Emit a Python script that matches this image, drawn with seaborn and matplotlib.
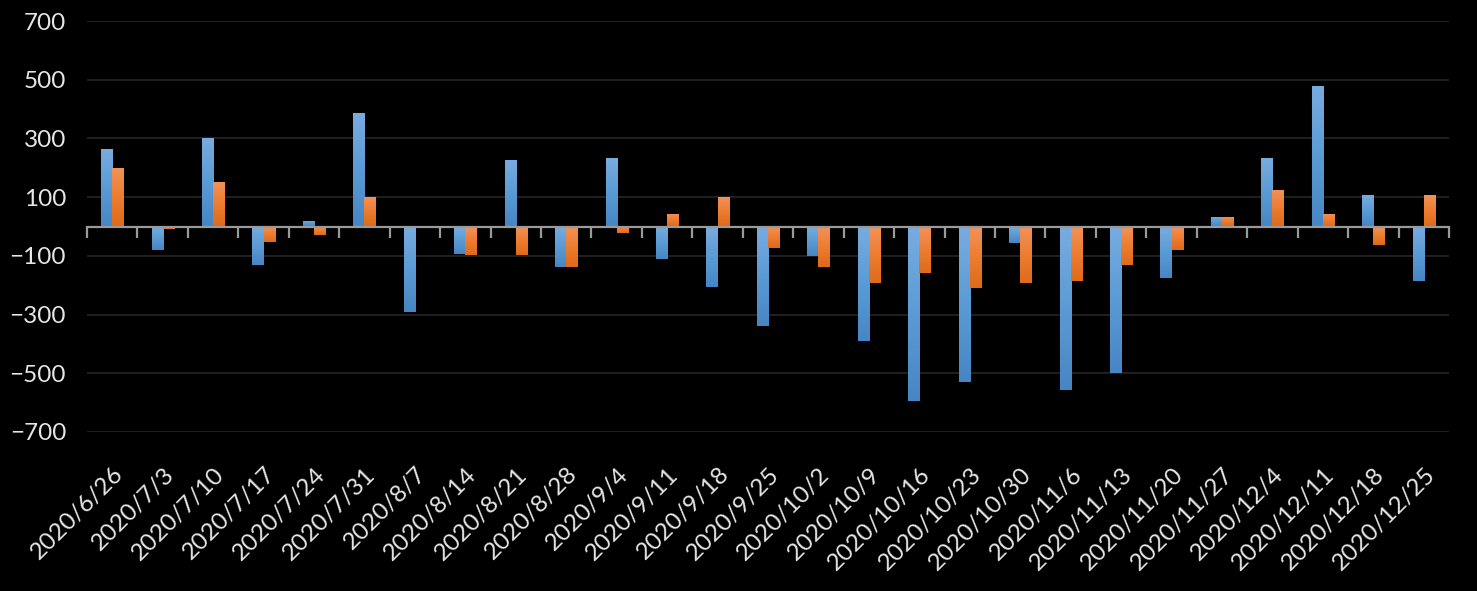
import matplotlib
matplotlib.use("Agg")
import matplotlib.pyplot as plt
import matplotlib.transforms as mtransforms
from matplotlib.colors import LinearSegmentedColormap
import numpy as np
import pandas as pd
import seaborn as sns

# Data
dates = [
    "2020/6/26", "2020/7/3", "2020/7/10", "2020/7/17", "2020/7/24", "2020/7/31",
    "2020/8/7", "2020/8/14", "2020/8/21", "2020/8/28", "2020/9/4", "2020/9/11",
    "2020/9/18", "2020/9/25", "2020/10/2", "2020/10/9", "2020/10/16", "2020/10/23",
    "2020/10/30", "2020/11/6", "2020/11/13", "2020/11/20", "2020/11/27", "2020/12/4",
    "2020/12/11", "2020/12/18", "2020/12/25",
]
series1 = [265, -80, 303, -132, 20, 385, -292, -95, 228, -138, 232, -111, -207, -339,
           -101, -390, -595, -530, -57, -557, -499, -176, 34, 232, 477, 106, -186]
series2 = [200, -9, 153, -53, -30, 99, 0, -98, -98, -138, -23, 41, 102, -74,
           -138, -193, -159, -210, -193, -186, -132, -81, 34, 123, 41, -64, 109]
y_ticks = [-700, -500, -300, -100, 100, 300, 500, 700]

BG = "black"
TEXT = "#E6E6E6"
GRID = "#262626"
AXIS = "#9A9A9A"
BLUE = ("#78ACE0", "#5B9BD5", "#4786C4")    # top, mid, bottom
ORANGE = ("#F3925A", "#ED7D31", "#DF6A1A")

df = pd.DataFrame({
    "date": dates * 2,
    "value": series1 + series2,
    "series": ["Series 1"] * len(dates) + ["Series 2"] * len(dates),
})

sns.set_theme(style="dark")
plt.rcParams["font.family"] = ["Lato", "DejaVu Sans"]

fig = plt.figure(figsize=(14.77, 5.91), dpi=100, facecolor=BG)
ax = fig.add_axes([87 / 1477, 1 - 432 / 591, (1449 - 87) / 1477, (432 - 21) / 591])
ax.set_facecolor(BG)

sns.barplot(
    data=df, x="date", y="value", hue="series", order=dates,
    palette=[BLUE[1], ORANGE[1]], width=0.44, gap=0, legend=False,
    linewidth=0, ax=ax, zorder=3,
)


def gradient_fill(bar, colors):
    """Replace a flat bar with a vertical gradient (light at top)."""
    x0, y0 = bar.get_x(), bar.get_y()
    w, h = bar.get_width(), bar.get_height()
    if h == 0:
        return
    lo, hi = min(y0, y0 + h), max(y0, y0 + h)
    cmap = LinearSegmentedColormap.from_list("g", [colors[2], colors[1], colors[0]])
    grad = np.linspace(0, 1, 64).reshape(-1, 1)
    im = ax.imshow(grad, extent=[x0, x0 + w, lo, hi], origin="lower",
                   aspect="auto", cmap=cmap, zorder=3, interpolation="bilinear")
    im.set_clip_path(bar)
    bar.set_facecolor("none")


n = len(dates)
for i, bar in enumerate(ax.patches[: 2 * n]):
    gradient_fill(bar, BLUE if i < n else ORANGE)

ax.set_xlim(-0.5, n - 0.5)
ax.set_ylim(-700, 700)
ax.set_yticks(y_ticks)
ax.yaxis.grid(True, color=GRID, linewidth=1.2, zorder=0)
ax.xaxis.grid(False)
for s in ax.spines.values():
    s.set_visible(False)

ax.set_xlabel("")
ax.set_ylabel("")
ax.tick_params(axis="y", length=0, pad=15, labelsize=17.5, labelcolor=TEXT)
ax.tick_params(axis="x", length=0, pad=28, labelsize=17.5, labelcolor=TEXT)
ax.set_xticks(range(n))
ax.set_xticklabels(dates, rotation=45, ha="right", va="center", rotation_mode="anchor")
shift = mtransforms.ScaledTranslation(0.08, 0, fig.dpi_scale_trans)
for lbl in ax.get_xticklabels():
    lbl.set_transform(lbl.get_transform() + shift)

# zero line with category-boundary tick marks pointing down
zero = ax.secondary_xaxis(0.5)
zero.set_alignment("bottom")
zero.set_xticks(np.arange(n + 1) - 0.5)
zero.tick_params(axis="x", length=8, width=1.6, color=AXIS, bottom=True, top=False,
                 labelbottom=False, labeltop=False, direction="out")
for side in ("top", "bottom"):
    zero.spines[side].set_color(AXIS)
    zero.spines[side].set_linewidth(1.6)
zero.set_zorder(4)

fig.savefig("out.png", dpi=100, facecolor=BG)
